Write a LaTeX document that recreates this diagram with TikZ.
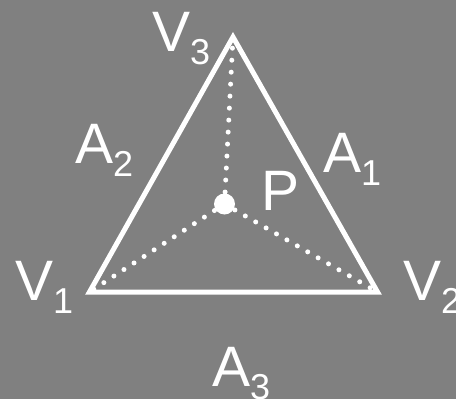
\documentclass[tikz,border=0pt]{standalone}
\usepackage{fontspec}
\setmainfont{Liberation Sans}
\usetikzlibrary{positioning}
\definecolor{bggray}{HTML}{808080}
\definecolor{chalk}{HTML}{FFFFFF}

% letter with a lowered index
\newcommand{\sublab}[2]{#1\raisebox{-13pt}{\fontsize{36}{36}\selectfont #2}}

\begin{document}
\begin{tikzpicture}[
  x=1pt, y=-1pt,
  edge/.style={chalk, line width=5pt, line join=miter},
  dotline/.style={chalk, line width=5pt, line cap=round, dash pattern=on 0pt off 12pt},
  lab/.style={text=chalk, font=\fontsize{57}{57}\selectfont, inner sep=0pt, anchor=base west},
]

% Background
\fill[bggray] (0,0) rectangle (456,399);
\useasboundingbox (0,0) rectangle (456,399);

% --- Triangle corners ---
\coordinate (v1) at (89.5,292);
\coordinate (v2) at (377.5,292);
\coordinate (v3) at (233,37);

\draw[edge] (v1) -- (v2) -- (v3) -- cycle;

% --- Inner point and its dotted links ---
\node[circle, fill=chalk, minimum size=21pt, inner sep=0pt] (p) at (224.5,204) {};
\foreach \v in {v1,v2,v3}
  \draw[dotline] (p.center) -- (\v);

% --- Labels ---
\node[lab] (v3lab) at (152,51) {\sublab{V}{3}};
\node[lab] (v1lab) at (15,300) {\sublab{V}{1}};
\node[lab] (v2lab) at (403,300) {\sublab{V}{2}};
\node[lab] (a2lab) at (75,163) {\sublab{A}{2}};
\node[lab] (a1lab) at (323,172) {\sublab{A}{1}};
\node[lab] (a3lab) at (212,386) {\sublab{A}{3}};
\node[lab] (plab) at (261,210) {P};

\end{tikzpicture}
\end{document}
